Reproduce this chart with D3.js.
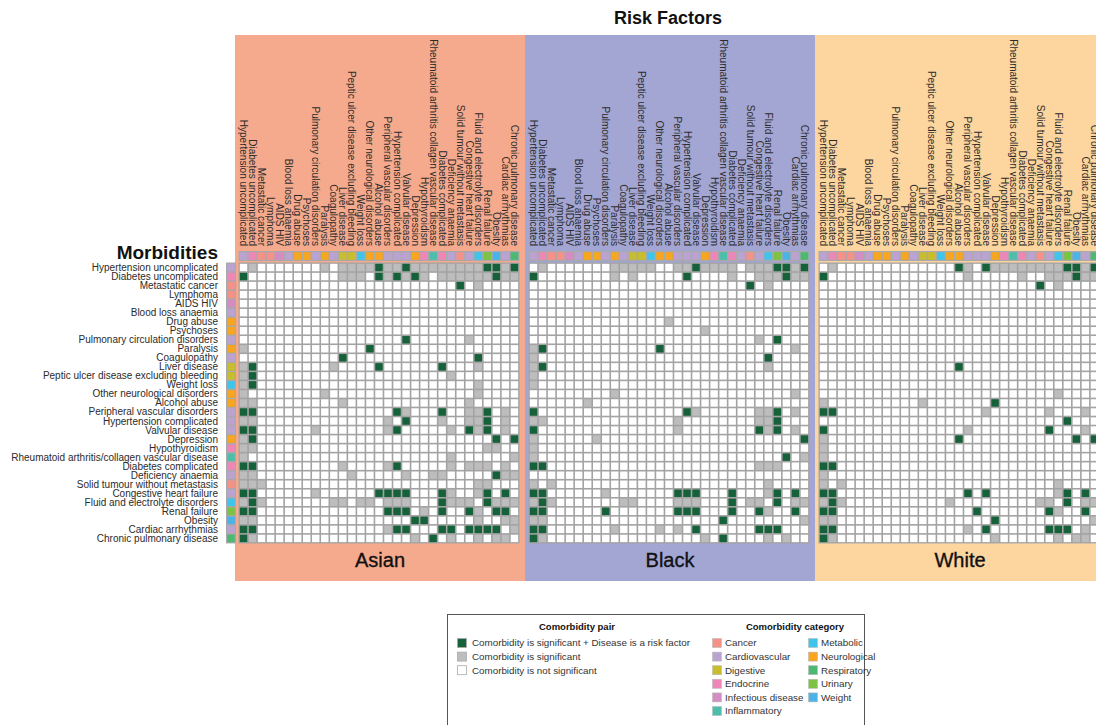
<!DOCTYPE html>
<html>
<head>
<meta charset="utf-8">
<script src="https://cdn.jsdelivr.net/npm/d3@7"></script>
<style>
  body { margin: 0; background: #fff; }
  svg { font-family: "Liberation Sans", Arial, sans-serif; }
</style>
</head>
<body>
<div id="chart"></div>
<script>
// Morbidities (rows) and risk factors (columns)
const morbidities = [
    "Hypertension uncomplicated", "Diabetes uncomplicated", "Metastatic cancer", "Lymphoma",
    "AIDS HIV", "Blood loss anaemia", "Drug abuse", "Psychoses", "Pulmonary circulation disorders",
    "Paralysis", "Coagulopathy", "Liver disease", "Peptic ulcer disease excluding bleeding",
    "Weight loss", "Other neurological disorders", "Alcohol abuse", "Peripheral vascular disorders",
    "Hypertension complicated", "Valvular disease", "Depression", "Hypothyroidism",
    "Rheumatoid arthritis/collagen vascular disease", "Diabetes complicated", "Deficiency anaemia",
    "Solid tumour without metastasis", "Congestive heart failure", "Fluid and electrolyte disorders",
    "Renal failure", "Obesity", "Cardiac arrhythmias", "Chronic pulmonary disease"
];
const riskFactors = morbidities.map((d) => d.replace("/", " "));

const morbidityCategory = [
    "Cardiovascular", "Endocrine", "Cancer", "Cancer", "Infectious disease", "Cardiovascular",
    "Neurological", "Neurological", "Cardiovascular", "Neurological", "Cardiovascular",
    "Digestive", "Digestive", "Metabolic", "Neurological", "Neurological", "Cardiovascular",
    "Cardiovascular", "Cardiovascular", "Neurological", "Endocrine", "Inflammatory", "Endocrine",
    "Cardiovascular", "Cancer", "Cardiovascular", "Metabolic", "Urinary", "Weight",
    "Cardiovascular", "Respiratory"
];

const categoryNames = [
    "Cancer", "Cardiovascular", "Digestive", "Endocrine", "Infectious disease", "Inflammatory",
    "Metabolic", "Neurological", "Respiratory", "Urinary", "Weight"
];
const categoryColors = [
    "#F4928A", "#BBA3D1", "#C7BD2F", "#EE87B8", "#D38DC2", "#4CBFAA",
    "#3FC5EC", "#F8A51F", "#4CB973", "#7DC243", "#4BB3E8"
];

const panels = ["Asian", "Black", "White"];
const panelColors = ["#F6AA8D", "#A3A6D3", "#FDD59F"];

const pairLabels = [
    "Comorbidity is significant + Disease is a risk factor",
    "Comorbidity is significant",
    "Comorbidity is not significant"
];

// G = significant + risk factor, g = significant, . = not significant
const asianCells = [
    ".g.......g.ggggGggGggggggggGGgG",
    "G..........ggg.GgGgGg.ggggggGgg",
    "........................G.g....",
    "...............................",
    "...............................",
    "...............................",
    "...............................",
    "...............................",
    "..................G......g.....",
    "g.............G................",
    "...........G..............G....",
    "gG........g....G......G...g....",
    "gG.....................g.......",
    "gG........................g....",
    "g........g................g....",
    "gg.........g.............g.....",
    "GG...............Gg...G..ggG.g.",
    "gg..............g.G...g..ggG.g.",
    "GG......g.......gG.....g.GgG.g.",
    "gG..........................G.G",
    "gg.........................gg..",
    "g......................g......g",
    "GG.........g....gG.....g.ggg.g.",
    "gg..........g.....g..gg.....Ggg",
    "ggg.......................gg...",
    "GG......g......GGGG...Gg..gG.G.",
    "gGg.......gg.gg.ggg...Gggg.Gggg",
    "GG..............GGG.g.G..Gg.GG.",
    "gg.................GG.....g..gg",
    "GG..............gGG...GG.GGGG.g",
    "Gg.................g.G.g..g.gg."
];

const blackCells = [
    ".g.......ggggg..ggGgggg.gggGGgG",
    "G........g.g.....G....g..gggGgg",
    "........................G.g....",
    "...............................",
    "...............................",
    "...............................",
    "...............g...............",
    "...................g...........",
    ".........................g.G...",
    "gG............G..............g.",
    "g.........................G....",
    "gG........................g....",
    "g..............................",
    "g..............................",
    ".........g...................g.",
    "......g........................",
    "G................Gg......ggG.g.",
    "gg..............g........ggG...",
    "G...............g........GgG.g.",
    "g......g......................G",
    "g..............................",
    "g...........................G.g",
    "GG.......................ggg...",
    "...............................",
    "g.g.......................g....",
    "GG......g.......GGG...G...gG.G.",
    "gGg.......gg....ggg...G.gg.G.gg",
    "GG......G.......GGG...G..Gg..G.",
    "gg...................G........g",
    "GG.......g....g.g.G......GGG...",
    "Gg.................g.G....g.g.."
];

const whiteCells = [
    ".g.............Gg.GggggggggGGgG",
    "G...............g.....g..gggGgg",
    "........................G.g....",
    "...............................",
    "...............................",
    "...............................",
    "...............................",
    "...............................",
    "...............................",
    "...............................",
    "...............................",
    "...............G...............",
    "...............................",
    "...............................",
    "..........................g....",
    "g..........g.......G...........",
    "GG................g......g...g.",
    "...........................G...",
    "G...............g........G...g.",
    "g..............G............G.G",
    "g..............................",
    "g..............................",
    "GG.............................",
    "g..............................",
    "g.g.......................g....",
    "GG..............G.G.......gG.G.",
    "gGg...........g.........gg.G.gg",
    "GG...............G.......Gg..G.",
    "gg.................G..........g",
    "GG..............g.G......GGG.g.",
    "Gg.................g......g.gg."
];

const panelCells = [asianCells, blackCells, whiteCells];

const width = 1096;
const height = 725;
const n = morbidities.length;
const step = 9.03;
const gridTop = 263;

const svg = d3
    .select("#chart")
    .append("svg")
    .attr("width", width)
    .attr("height", height);

const panelX = d3.scaleBand().domain(panels).range([235, 235 + 3 * 290]);
const col = d3.scaleBand().domain(d3.range(n)).range([4, 4 + n * step]);
const row = d3.scaleBand().domain(d3.range(n)).range([gridTop, gridTop + n * step]);
const catColor = d3.scaleOrdinal().domain(categoryNames).range(categoryColors);
const cellColor = d3
    .scaleOrdinal()
    .domain(["G", "g", "."])
    .range(["#14613A", "#BDBDBD", "#FFFFFF"]);

// title
svg.append("text")
    .attr("x", 668)
    .attr("y", 24)
    .attr("text-anchor", "middle")
    .attr("font-size", "18px")
    .attr("font-weight", "bold")
    .attr("fill", "#111")
    .text("Risk Factors");

// panels
panels.forEach((p, pi) => {
    const g = svg.append("g").attr("transform", `translate(${panelX(p)},0)`);

    g.append("rect")
        .attr("x", 0)
        .attr("y", 35)
        .attr("width", panelX.bandwidth())
        .attr("height", 546)
        .attr("fill", panelColors[pi]);

    g.append("text")
        .attr("x", panelX.bandwidth() / 2)
        .attr("y", 567)
        .attr("text-anchor", "middle")
        .attr("font-size", "20px")
        .attr("fill", "#111")
        .attr("stroke", "#111")
        .attr("stroke-width", 0.35)
        .text(p);

    // column labels
    g.selectAll(".clabel")
        .data(riskFactors)
        .join("text")
        .attr("class", "clabel")
        .attr("transform", (d, i) => `translate(${col(i) + step / 2},246) rotate(90)`)
        .attr("dy", "0.35em")
        .attr("text-anchor", "end")
        .attr("font-size", "10px")
        .attr("fill", "#2b2b2b")
        .text((d) => d);

    // column category strip
    g.append("rect")
        .attr("x", col(0) - 0.5)
        .attr("y", 251)
        .attr("width", n * step + 1)
        .attr("height", step + 1)
        .attr("fill", "#a9a9a9");
    g.selectAll(".cstrip")
        .data(morbidityCategory)
        .join("rect")
        .attr("class", "cstrip")
        .attr("x", (d, i) => col(i) + 0.7)
        .attr("y", 252.2)
        .attr("width", step - 1.4)
        .attr("height", step - 1.4)
        .attr("fill", (d) => catColor(d));

    // grid
    g.append("rect")
        .attr("x", col(0) - 0.5)
        .attr("y", gridTop - 0.5)
        .attr("width", n * step + 1)
        .attr("height", n * step + 1)
        .attr("fill", "#a3a3a3");

    const cells = [];
    panelCells[pi].forEach((s, r) => {
        for (let c = 0; c < n; c++) cells.push({ r, c, v: s[c] || "." });
    });

    g.selectAll(".cell")
        .data(cells)
        .join("rect")
        .attr("class", "cell")
        .attr("x", (d) => col(d.c) + 0.8)
        .attr("y", (d) => row(d.r) + 0.8)
        .attr("width", step - 1.6)
        .attr("height", step - 1.6)
        .attr("fill", (d) => cellColor(d.v));
});

// row labels and row category strip
svg.append("text")
    .attr("x", 218)
    .attr("y", 259)
    .attr("text-anchor", "end")
    .attr("font-size", "19px")
    .attr("font-weight", "bold")
    .attr("fill", "#111")
    .text("Morbidities");

svg.selectAll(".rlabel")
    .data(morbidities)
    .join("text")
    .attr("class", "rlabel")
    .attr("x", 218)
    .attr("y", (d, i) => row(i) + step / 2)
    .attr("dy", "0.35em")
    .attr("text-anchor", "end")
    .attr("font-size", "10px")
    .attr("fill", "#2b2b2b")
    .text((d) => d);

svg.append("rect")
    .attr("x", 226)
    .attr("y", gridTop - 0.5)
    .attr("width", step + 1)
    .attr("height", n * step + 1)
    .attr("fill", "#a9a9a9");
svg.selectAll(".rstrip")
    .data(morbidityCategory)
    .join("rect")
    .attr("class", "rstrip")
    .attr("x", 227.2)
    .attr("y", (d, i) => row(i) + 0.7)
    .attr("width", step - 1.4)
    .attr("height", step - 1.4)
    .attr("fill", (d) => catColor(d));

// legend
const legend = svg.append("g");
legend.append("rect")
    .attr("x", 447.5)
    .attr("y", 614.5)
    .attr("width", 417)
    .attr("height", 130)
    .attr("fill", "#fff")
    .attr("stroke", "#555")
    .attr("stroke-width", 1);

legend.append("text")
    .attr("x", 577)
    .attr("y", 630)
    .attr("text-anchor", "middle")
    .attr("font-size", "9.5px")
    .attr("font-weight", "bold")
    .attr("fill", "#111")
    .text("Comorbidity pair");

legend.append("text")
    .attr("x", 795)
    .attr("y", 630)
    .attr("text-anchor", "middle")
    .attr("font-size", "9.5px")
    .attr("font-weight", "bold")
    .attr("fill", "#111")
    .text("Comorbidity category");

const legendY = d3.scaleLinear().domain([0, 1]).range([643, 656.6]);

legend.selectAll(".pair")
    .data(pairLabels)
    .join("g")
    .attr("class", "pair")
    .attr("transform", (d, i) => `translate(457,${legendY(i)})`)
    .each(function (d, i) {
        const item = d3.select(this);
        item.append("rect")
            .attr("x", 0.5)
            .attr("y", -4.5)
            .attr("width", 9)
            .attr("height", 9)
            .attr("fill", cellColor(["G", "g", "."][i]))
            .attr("stroke", "#aaa")
            .attr("stroke-width", 0.8);
        item.append("text")
            .attr("x", 15)
            .attr("dy", "0.35em")
            .attr("font-size", "9.8px")
            .attr("fill", "#333")
            .text(d);
    });

legend.selectAll(".cat")
    .data(categoryNames)
    .join("g")
    .attr("class", "cat")
    .attr("transform", (d, i) => {
        const x = i < 6 ? 712 : 808;
        const k = i < 6 ? i : i - 6;
        return `translate(${x},${legendY(k)})`;
    })
    .each(function (d) {
        const item = d3.select(this);
        item.append("rect")
            .attr("x", 0.5)
            .attr("y", -4.5)
            .attr("width", 9)
            .attr("height", 9)
            .attr("fill", catColor(d))
            .attr("stroke", "#bbb")
            .attr("stroke-width", 0.6);
        item.append("text")
            .attr("x", 13)
            .attr("dy", "0.35em")
            .attr("font-size", "9.8px")
            .attr("fill", "#333")
            .text(d);
    });
</script>
</body>
</html>
